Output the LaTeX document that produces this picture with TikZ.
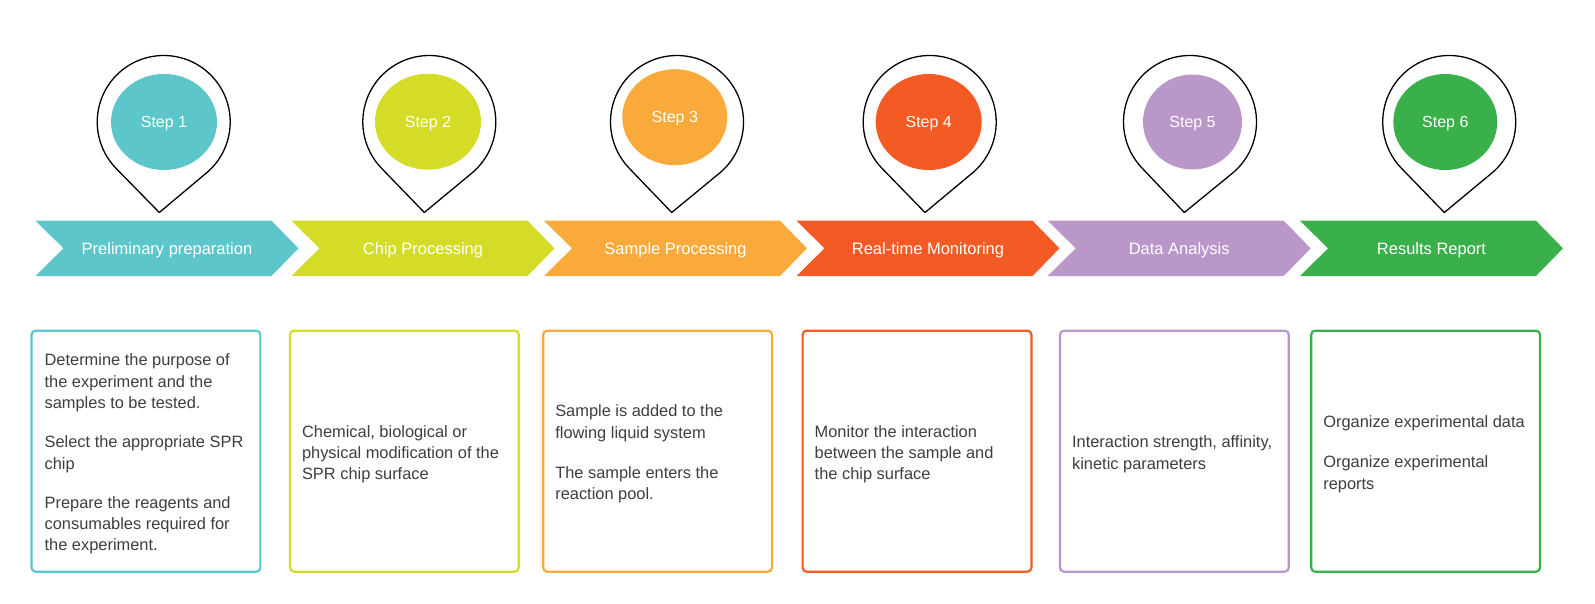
\documentclass[tikz,border=0pt]{standalone}
\usepackage{fontspec}
\setmainfont{Liberation Sans}
\usetikzlibrary{shapes.geometric}
\definecolor{cA}{RGB}{93,198,202}
\definecolor{cB}{RGB}{213,220,40}
\definecolor{cC}{RGB}{250,170,58}
\definecolor{cD}{RGB}{243,90,36}
\definecolor{cE}{RGB}{186,151,201}
\definecolor{cF}{RGB}{58,176,74}
\definecolor{txt}{RGB}{62,62,62}
\tikzset{
  pinline/.style={draw=black,line width=1.3pt,fill=white,line join=round},
  stepdot/.style={ellipse,inner sep=0pt,text=white,text depth=0pt,font=\fontsize{16}{19}\selectfont},
  chevlabel/.style={text=white,text depth=0pt,font=\fontsize{16.5}{20}\selectfont},
  cardbox/.style={rectangle,rounded corners=4pt,line width=2.2pt,minimum width=228.8pt,minimum height=241pt,inner sep=0pt},
  cardtext/.style={anchor=west,align=left,text=txt,inner sep=0pt,font=\fontsize{16.4}{21.3}\selectfont}
}
\newcommand\droppin[4]{%
  \pgfmathsetmacro\pinDX{#3-#1}%
  \pgfmathsetmacro\pinDY{#4-#2}%
  \pgfmathsetmacro\pinPhi{atan2(-\pinDY,\pinDX)}%
  \pgfmathsetmacro\pinDist{veclen(\pinDX,\pinDY)}%
  \pgfmathsetmacro\pinTh{acos(66.5/\pinDist)}%
  \pgfmathsetmacro\pinA{\pinPhi+\pinTh}%
  \pgfmathsetmacro\pinB{\pinPhi-\pinTh+360}%
  \draw[pinline] (#3,#4) -- ([shift={(\pinA:66.5pt)}]#1,#2) arc[start angle=\pinA, end angle=\pinB, radius=66.5pt] -- cycle;
}
\newcommand\chevron[2]{% left x, colour
  \fill[#2] (#1,220.7) -- ++(236,0) -- ++(27,27.65) -- ++(-27,27.65) -- ++(-236,0) -- ++(28,-27.65) -- cycle;
}
\begin{document}
\begin{tikzpicture}[x=1pt,y=-1pt]
\useasboundingbox (0,0) rectangle (1595,603);
\fill[white] (0,0) rectangle (1595,603);

% pins
\droppin{163.7}{122}{159.3}{212.5}
\droppin{429.3}{122}{424.3}{212.5}
\droppin{677}{122}{671.7}{212.5}
\droppin{929.7}{122}{925}{212.5}
\droppin{1190}{122}{1184.3}{212.5}
\droppin{1449.2}{122}{1444.3}{212.5}

\node[stepdot,fill=cA,minimum width=106pt,minimum height=96pt] (s1) at (164,122) {Step 1};
\node[stepdot,fill=cB,minimum width=106pt,minimum height=96pt] (s2) at (428,121.7) {Step 2};
\node[stepdot,fill=cC,minimum width=105pt,minimum height=96pt] (s3) at (674.8,117.2) {Step 3};
\node[stepdot,fill=cD,minimum width=106pt,minimum height=96pt] (s4) at (928.7,122) {Step 4};
\node[stepdot,fill=cE,minimum width=99pt,minimum height=95pt] (s5) at (1192.5,122) {Step 5};
\node[stepdot,fill=cF,minimum width=104pt,minimum height=96pt] (s6) at (1445.3,122) {Step 6};

% chevrons
\chevron{35.5}{cA}
\chevron{291.5}{cB}
\chevron{544}{cC}
\chevron{796.5}{cD}
\chevron{1047.7}{cE}
\chevron{1300}{cF}
\node[chevlabel] (c1) at (167,248.35) {Preliminary preparation};
\node[chevlabel] (c2) at (423,248.35) {Chip Processing};
\node[chevlabel] (c3) at (675.5,248.35) {Sample Processing};
\node[chevlabel] (c4) at (928,248.35) {Real-time Monitoring};
\node[chevlabel] (c5) at (1179.2,248.35) {Data Analysis};
\node[chevlabel] (c6) at (1431.5,248.35) {Results Report};

% cards
\node[cardbox,draw=cA] (b1) at (145.95,451.15) {};
\node[cardbox,draw=cB] (b2) at (404.35,451.15) {};
\node[cardbox,draw=cC] (b3) at (657.6,451.15) {};
\node[cardbox,draw=cD] (b4) at (917,451.15) {};
\node[cardbox,draw=cE] (b5) at (1174.4,451.15) {};
\node[cardbox,draw=cF] (b6) at (1425.6,451.15) {};

\node[cardtext] (t1) at ([xshift=14pt,yshift=-3pt]b1.west) {Determine the purpose of\\the experiment and the\\samples to be tested.\\[18pt]Select the appropriate SPR\\chip\\[18pt]Prepare the reagents and\\consumables required for\\the experiment.};
\node[cardtext] (t2) at ([xshift=13pt,yshift=-3pt]b2.west) {Chemical, biological or\\physical modification of the\\SPR chip surface};
\node[cardtext] (t3) at ([xshift=13pt,yshift=-3pt]b3.west) {Sample is added to the\\flowing liquid system\\[19pt]The sample enters the\\reaction pool.};
\node[cardtext] (t4) at ([xshift=13pt,yshift=-3pt]b4.west) {Monitor the interaction\\between the sample and\\the chip surface};
\node[cardtext] (t5) at ([xshift=13pt,yshift=-3pt]b5.west) {Interaction strength, affinity,\\kinetic parameters};
\node[cardtext] (t6) at ([xshift=13pt,yshift=-3pt]b6.west) {Organize experimental data\\[19pt]Organize experimental\\reports};
\end{tikzpicture}
\end{document}
